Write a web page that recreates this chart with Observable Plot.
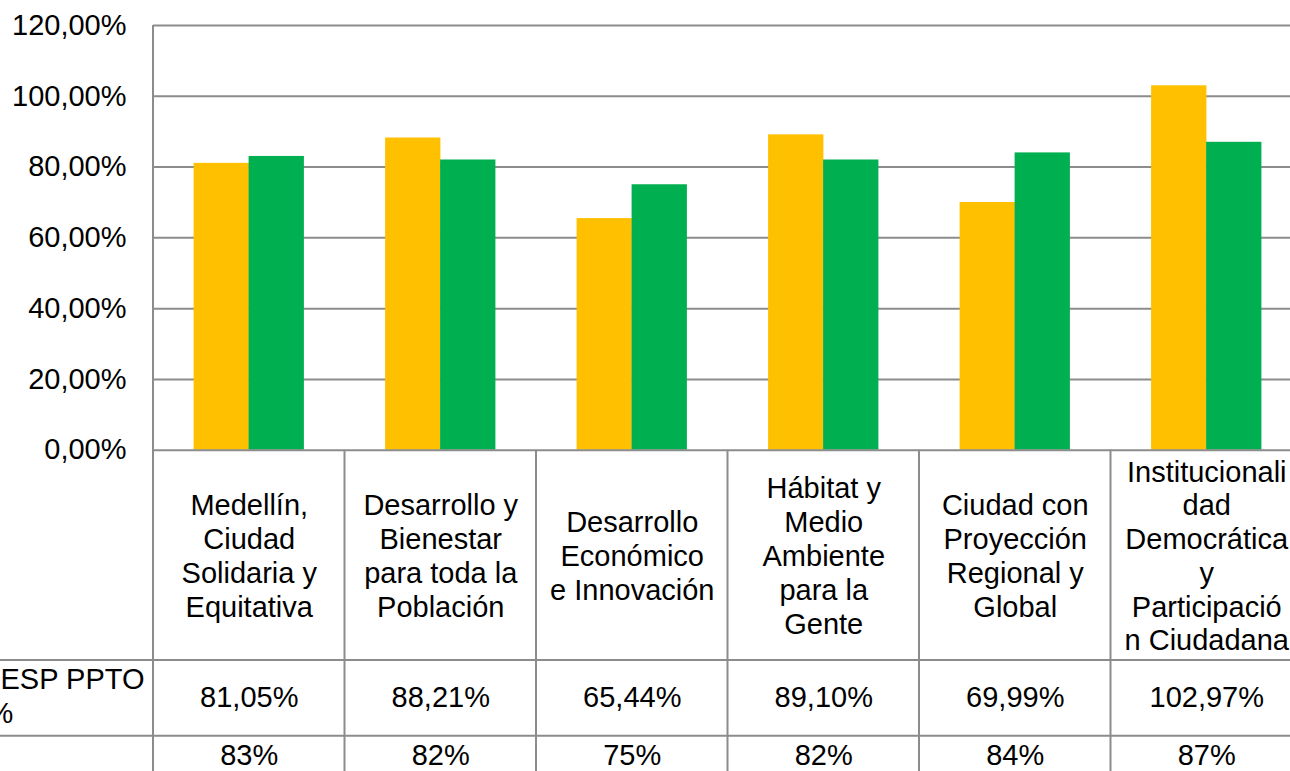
<!DOCTYPE html>
<html><head><meta charset="utf-8">
<script src="https://cdn.jsdelivr.net/npm/d3@7"></script>
<script src="https://cdn.jsdelivr.net/npm/@observablehq/plot@0.6"></script>
<style>
html,body{margin:0;padding:0;background:#fff;overflow:hidden;}
#chart svg{max-width:none !important;display:block;}
</style></head><body><div id="chart"></div>
<script>
const categories = ["Medellín, Ciudad Solidaria y Equitativa","Desarrollo y Bienestar para toda la Población","Desarrollo Económico e Innovación","Hábitat y Medio Ambiente para la Gente","Ciudad con Proyección Regional y Global","Institucionalidad Democrática y Participación Ciudadana"];
const categoryLabels = ["Medellín,\nCiudad\nSolidaria y\nEquitativa","Desarrollo y\nBienestar\npara toda la\nPoblación","Desarrollo\nEconómico\ne Innovación","Hábitat y\nMedio\nAmbiente\npara la\nGente","Ciudad con\nProyección\nRegional y\nGlobal","Institucionali\ndad\nDemocrática\ny\nParticipació\nn Ciudadana"];
const espPpto = [81.05, 88.21, 65.44, 89.10, 69.99, 102.97];
const avance = [83, 82, 75, 82, 84, 87];
const yTicks = [0, 20, 40, 60, 80, 100, 120];
const rowLabelLine1 = "ESP PPTO";
const rowLabelLine2 = "%";

const yellow = "#FFC000", green = "#00B050", gridColor = "#8c8c8c";
const fmtPct2 = v => v.toFixed(2).replace(".", ",") + "%";
const fmtPct0 = v => v + "%";

const espData = categories.map((c, i) => ({cat: c, value: espPpto[i], label: fmtPct2(espPpto[i])}));
const avData = categories.map((c, i) => ({cat: c, value: avance[i], label: fmtPct0(avance[i])}));
const headData = categories.map((c, i) => ({cat: c, label: categoryLabels[i]}));

const W = 1302, H = 771, ML = 153, MT = 25, ZERO = 449.7;
const rowLineOffsets = [210.3, 286];   // table row borders below the frame

function tableGrid(index, scales, values, dims) {
  const ns = "http://www.w3.org/2000/svg";
  const g = document.createElementNS(ns, "g");
  const bottom = dims.height - dims.marginBottom;
  const right = dims.width - dims.marginRight;
  const x = scales.x;
  const bw = x.bandwidth ? x.bandwidth() : (right - dims.marginLeft) / categories.length;
  const line = (x1, y1, x2, y2) => {
    const l = document.createElementNS(ns, "line");
    l.setAttribute("x1", x1); l.setAttribute("y1", y1);
    l.setAttribute("x2", x2); l.setAttribute("y2", y2);
    l.setAttribute("stroke", gridColor); l.setAttribute("stroke-width", 2);
    g.appendChild(l);
  };
  line(dims.marginLeft, dims.marginTop, dims.marginLeft, dims.height);
  categories.forEach(c => { const xe = x(c) + bw; line(xe, bottom, xe, dims.height); });
  rowLineOffsets.forEach(o => line(0, bottom + o, right, bottom + o));
  return g;
}

const chart = Plot.plot({
  width: W, height: H,
  marginLeft: ML, marginTop: MT, marginRight: 0, marginBottom: H - ZERO,
  style: {fontFamily: "'Liberation Sans', Arial, sans-serif", fontSize: "29px", color: "#000", background: "#fff"},
  x: {domain: categories, padding: 0, round: false, axis: null},
  y: {domain: [0, 120], ticks: yTicks, tickFormat: fmtPct2, tickSize: 0, tickPadding: 27, label: null},
  marks: [
    Plot.ruleY(yTicks.filter(d => d > 0), {stroke: gridColor, strokeWidth: 2, strokeOpacity: 1}),
    Plot.barY(espData, {x: "cat", y: "value", fill: yellow, insetLeft: 40.6, insetRight: 95.6}),
    Plot.barY(avData, {x: "cat", y: "value", fill: green, insetLeft: 95.6, insetRight: 40.6}),
    Plot.ruleY([0], {stroke: gridColor, strokeWidth: 2, strokeOpacity: 1}),
    tableGrid,
    Plot.text(headData, {x: "cat", text: "label", frameAnchor: "bottom", dy: 105, lineHeight: 1.165, lineAnchor: "middle", fill: "#000"}),
    Plot.text(espData, {x: "cat", text: "label", frameAnchor: "bottom", dy: 247.5, lineAnchor: "middle", fill: "#000"}),
    Plot.text(avData, {x: "cat", text: "label", frameAnchor: "bottom", dy: 306, lineAnchor: "middle", fill: "#000"}),
    Plot.text([rowLabelLine1], {frameAnchor: "bottom-left", textAnchor: "start", dx: -ML, dy: 229.5, lineAnchor: "middle", fill: "#000"}),
    Plot.text([rowLabelLine2], {frameAnchor: "bottom-left", textAnchor: "start", dx: -ML - 13, dy: 263.5, lineAnchor: "middle", fill: "#000"})
  ]
});
document.getElementById("chart").appendChild(chart);
</script></body></html>
